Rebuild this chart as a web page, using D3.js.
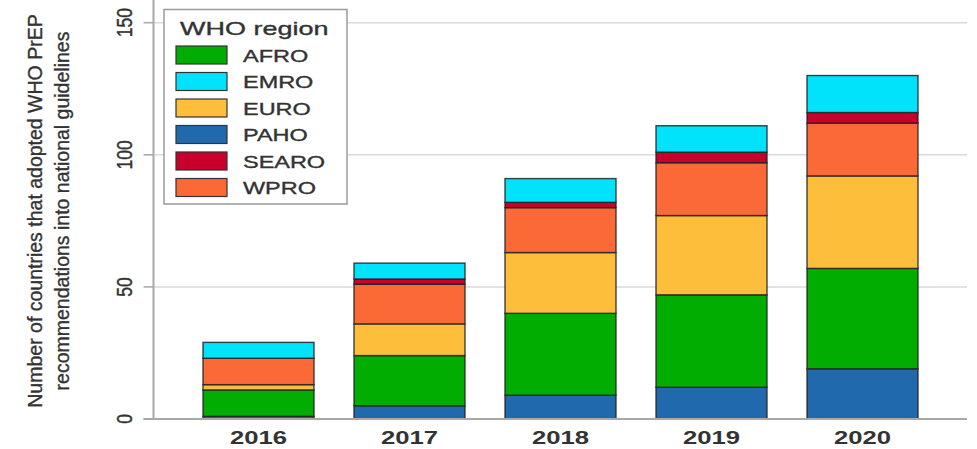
<!DOCTYPE html>
<html lang="en">
<head>
    <meta charset="UTF-8">
    <title>Countries adopting WHO PrEP recommendations</title>
    <script src="https://d3js.org/d3.v7.min.js"></script>
    <style>
        body { margin: 0; background: #fff; }
        text { font-family: "Liberation Sans", Arial, sans-serif; fill: #333; }
        .heavy { stroke: #333; stroke-width: 0.35px; }
    </style>
</head>
<body>
    <svg width="977" height="449"></svg>

    <script>
        // Values (countries per WHO region, by year)
        const years = ["2016", "2017", "2018", "2019", "2020"];
        const paho  = [1, 5, 9, 12, 19];
        const afro  = [10, 19, 31, 35, 38];
        const euro  = [2, 12, 23, 30, 35];
        const wpro  = [10, 15, 17, 20, 20];
        const searo = [0, 2, 2, 4, 4];
        const emro  = [6, 6, 9, 10, 14];
        const yTicks = [0, 50, 100, 150];

        // stacking order, bottom to top
        const stackKeys = ["PAHO", "AFRO", "EURO", "WPRO", "SEARO", "EMRO"];
        const legendKeys = ["AFRO", "EMRO", "EURO", "PAHO", "SEARO", "WPRO"];
        const colors = {
            AFRO: "#00ad00",
            EMRO: "#00e3fa",
            EURO: "#fdbf3b",
            PAHO: "#2169ad",
            SEARO: "#c8002c",
            WPRO: "#fb6a36"
        };

        const rows = years.map((y, i) => ({
            year: y, PAHO: paho[i], AFRO: afro[i], EURO: euro[i],
            WPRO: wpro[i], SEARO: searo[i], EMRO: emro[i]
        }));

        const svg = d3.select("svg");

        const x = d3.scaleBand()
            .domain(years)
            .range([183, 938])
            .paddingInner(0.265)
            .paddingOuter(0.1325);

        const y = d3.scaleLinear()
            .domain([0, 150])
            .range([419, 22.7]);

        const plotLeft = 153.5, plotRight = 967;

        // grid lines
        svg.append("g")
            .selectAll("line")
            .data(yTicks.filter(d => d > 0))
            .join("line")
            .attr("x1", plotLeft)
            .attr("x2", plotRight)
            .attr("y1", d => y(d))
            .attr("y2", d => y(d))
            .attr("stroke", "#dadada")
            .attr("stroke-width", 1.5);

        // stacked bars
        const series = d3.stack().keys(stackKeys)(rows);
        svg.append("g")
            .selectAll("g")
            .data(series)
            .join("g")
            .attr("fill", d => colors[d.key])
            .selectAll("rect")
            .data(d => d.filter(s => s[1] - s[0] > 0))
            .join("rect")
            .attr("x", d => x(d.data.year))
            .attr("width", x.bandwidth())
            .attr("y", d => y(d[1]))
            .attr("height", d => y(d[0]) - y(d[1]))
            .attr("stroke", "#222")
            .attr("stroke-opacity", 0.85)
            .attr("stroke-width", 1.4);

        // y axis
        const yAxis = svg.append("g");
        yAxis.append("line")
            .attr("x1", plotLeft).attr("x2", plotLeft)
            .attr("y1", 0).attr("y2", y(0))
            .attr("stroke", "#a8a8a8")
            .attr("stroke-width", 2);
        yAxis.selectAll(".tick")
            .data(yTicks)
            .join("line")
            .attr("x1", plotLeft - 10).attr("x2", plotLeft)
            .attr("y1", d => y(d)).attr("y2", d => y(d))
            .attr("stroke", "#a8a8a8")
            .attr("stroke-width", 1.5);
        yAxis.selectAll("text")
            .data(yTicks)
            .join("text")
            .attr("class", "heavy")
            .attr("transform", d => `translate(132,${y(d)}) scale(1.25,1) rotate(-90)`)
            .attr("text-anchor", "middle")
            .attr("font-size", 17.5)
            .text(d => d);

        // x axis
        svg.append("line")
            .attr("x1", plotLeft - 10).attr("x2", plotRight)
            .attr("y1", y(0)).attr("y2", y(0))
            .attr("stroke", "#a8a8a8")
            .attr("stroke-width", 2);
        svg.append("g")
            .selectAll("text")
            .data(years)
            .join("text")
            .attr("transform", d => `translate(${x(d) + x.bandwidth() / 2},444) scale(1.35,1)`)
            .attr("text-anchor", "middle")
            .attr("font-size", 19)
            .attr("font-weight", "bold")
            .text(d => d);

        // y axis title
        const yTitle = svg.append("text")
            .attr("class", "heavy")
            .attr("transform", "translate(0,211) rotate(-90)")
            .attr("text-anchor", "middle")
            .attr("font-size", 19.5);
        yTitle.append("tspan").attr("x", 0).attr("y", 42)
            .text("Number of countries that adopted WHO PrEP");
        yTitle.append("tspan").attr("x", 0).attr("y", 68.5)
            .text("recommendations into national guidelines");

        // legend
        const legend = svg.append("g");
        legend.append("rect")
            .attr("x", 164).attr("y", 9.5)
            .attr("width", 183).attr("height", 194.5)
            .attr("fill", "#fff")
            .attr("stroke", "#9a9a9a")
            .attr("stroke-width", 1.5);
        legend.append("text")
            .attr("class", "heavy")
            .attr("transform", "translate(180,35) scale(1.42,1)")
            .attr("font-size", 19)
            .text("WHO region");
        const item = legend.selectAll(".item")
            .data(legendKeys)
            .join("g")
            .attr("class", "item")
            .attr("transform", (d, i) => `translate(0,${55 + i * 26.5})`);
        item.append("rect")
            .attr("x", 176).attr("y", -9)
            .attr("width", 51).attr("height", 18)
            .attr("fill", d => colors[d])
            .attr("stroke", "#333")
            .attr("stroke-width", 1.2);
        item.append("text")
            .attr("class", "heavy")
            .attr("transform", "translate(243,6.5) scale(1.38,1)")
            .attr("font-size", 17)
            .text(d => d);
    </script>
</body>
</html>
